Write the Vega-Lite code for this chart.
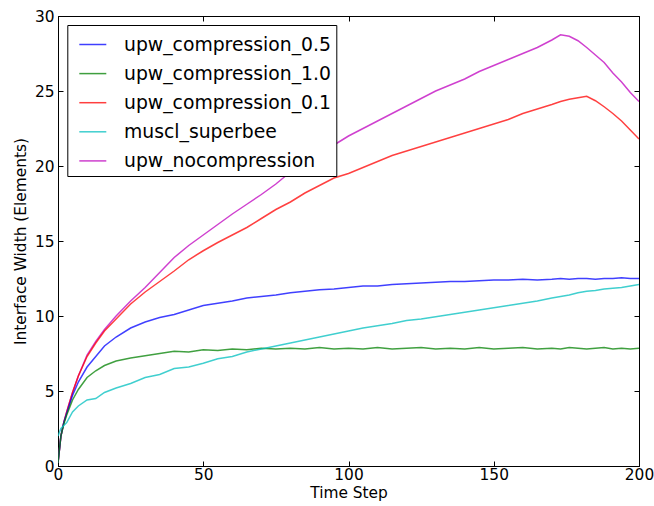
{
  "$schema": "https://vega.github.io/schema/vega-lite/v6.json",
  "width": 581,
  "height": 450,
  "autosize": "none",
  "padding": {"left": 58, "top": 16, "right": 15, "bottom": 40},
  "background": "white",
  "config": {
    "view": {"stroke": "black", "strokeWidth": 1},
    "axis": {
      "grid": false,
      "domainColor": "black",
      "tickColor": "black",
      "labelColor": "black",
      "titleColor": "black",
      "labelFont": "DejaVu Sans",
      "titleFont": "DejaVu Sans",
      "labelFontSize": 15.4,
      "titleFontSize": 15.4,
      "titleFontWeight": "normal",
      "tickSize": -5,
      "labelPadding": 6.5,
      "labelFlush": false
    },
    "legend": {
      "labelFont": "DejaVu Sans",
      "labelFontSize": 18.8,
      "labelColor": "black",
      "labelLimit": 400
    }
  },
  "data": {"values": [
    {"series":"upw_nocompression","t":0,"w":0.2},{"series":"upw_nocompression","t":1,"w":2.0},{"series":"upw_nocompression","t":2,"w":2.9},{"series":"upw_nocompression","t":3,"w":3.6},{"series":"upw_nocompression","t":5,"w":4.9},{"series":"upw_nocompression","t":7,"w":6.0},{"series":"upw_nocompression","t":10,"w":7.4},{"series":"upw_nocompression","t":13,"w":8.3},{"series":"upw_nocompression","t":16,"w":9.1},{"series":"upw_nocompression","t":20,"w":10.0},{"series":"upw_nocompression","t":25,"w":11.0},{"series":"upw_nocompression","t":30,"w":11.9},{"series":"upw_nocompression","t":35,"w":12.9},{"series":"upw_nocompression","t":40,"w":13.9},{"series":"upw_nocompression","t":45,"w":14.7},{"series":"upw_nocompression","t":50,"w":15.4},{"series":"upw_nocompression","t":55,"w":16.1},{"series":"upw_nocompression","t":60,"w":16.8},{"series":"upw_nocompression","t":65,"w":17.45},{"series":"upw_nocompression","t":70,"w":18.1},{"series":"upw_nocompression","t":75,"w":18.8},{"series":"upw_nocompression","t":80,"w":19.6},{"series":"upw_nocompression","t":85,"w":20.2},{"series":"upw_nocompression","t":90,"w":20.8},{"series":"upw_nocompression","t":95,"w":21.4},{"series":"upw_nocompression","t":100,"w":22.0},{"series":"upw_nocompression","t":105,"w":22.5},{"series":"upw_nocompression","t":110,"w":23.0},{"series":"upw_nocompression","t":115,"w":23.5},{"series":"upw_nocompression","t":120,"w":24.0},{"series":"upw_nocompression","t":125,"w":24.5},{"series":"upw_nocompression","t":130,"w":25.0},{"series":"upw_nocompression","t":135,"w":25.4},{"series":"upw_nocompression","t":140,"w":25.8},{"series":"upw_nocompression","t":145,"w":26.3},{"series":"upw_nocompression","t":150,"w":26.7},{"series":"upw_nocompression","t":155,"w":27.1},{"series":"upw_nocompression","t":160,"w":27.5},{"series":"upw_nocompression","t":165,"w":27.9},{"series":"upw_nocompression","t":170,"w":28.4},{"series":"upw_nocompression","t":173,"w":28.75},{"series":"upw_nocompression","t":176,"w":28.65},{"series":"upw_nocompression","t":179,"w":28.35},{"series":"upw_nocompression","t":182,"w":27.9},{"series":"upw_nocompression","t":185,"w":27.4},{"series":"upw_nocompression","t":188,"w":26.9},{"series":"upw_nocompression","t":191,"w":26.2},{"series":"upw_nocompression","t":194,"w":25.6},{"series":"upw_nocompression","t":197,"w":24.9},{"series":"upw_nocompression","t":200,"w":24.3},

    {"series":"upw_compression_0.1","t":0,"w":0.2},{"series":"upw_compression_0.1","t":1,"w":2.0},{"series":"upw_compression_0.1","t":2,"w":2.9},{"series":"upw_compression_0.1","t":3,"w":3.6},{"series":"upw_compression_0.1","t":5,"w":4.9},{"series":"upw_compression_0.1","t":7,"w":6.0},{"series":"upw_compression_0.1","t":10,"w":7.3},{"series":"upw_compression_0.1","t":13,"w":8.2},{"series":"upw_compression_0.1","t":16,"w":9.0},{"series":"upw_compression_0.1","t":20,"w":9.8},{"series":"upw_compression_0.1","t":25,"w":10.8},{"series":"upw_compression_0.1","t":30,"w":11.6},{"series":"upw_compression_0.1","t":35,"w":12.3},{"series":"upw_compression_0.1","t":40,"w":13.0},{"series":"upw_compression_0.1","t":45,"w":13.75},{"series":"upw_compression_0.1","t":50,"w":14.35},{"series":"upw_compression_0.1","t":55,"w":14.9},{"series":"upw_compression_0.1","t":60,"w":15.4},{"series":"upw_compression_0.1","t":65,"w":15.9},{"series":"upw_compression_0.1","t":70,"w":16.5},{"series":"upw_compression_0.1","t":75,"w":17.1},{"series":"upw_compression_0.1","t":80,"w":17.6},{"series":"upw_compression_0.1","t":85,"w":18.2},{"series":"upw_compression_0.1","t":90,"w":18.7},{"series":"upw_compression_0.1","t":95,"w":19.2},{"series":"upw_compression_0.1","t":100,"w":19.5},{"series":"upw_compression_0.1","t":105,"w":19.9},{"series":"upw_compression_0.1","t":110,"w":20.3},{"series":"upw_compression_0.1","t":115,"w":20.7},{"series":"upw_compression_0.1","t":120,"w":21.0},{"series":"upw_compression_0.1","t":125,"w":21.3},{"series":"upw_compression_0.1","t":130,"w":21.6},{"series":"upw_compression_0.1","t":135,"w":21.9},{"series":"upw_compression_0.1","t":140,"w":22.2},{"series":"upw_compression_0.1","t":145,"w":22.5},{"series":"upw_compression_0.1","t":150,"w":22.8},{"series":"upw_compression_0.1","t":155,"w":23.1},{"series":"upw_compression_0.1","t":160,"w":23.5},{"series":"upw_compression_0.1","t":165,"w":23.8},{"series":"upw_compression_0.1","t":170,"w":24.1},{"series":"upw_compression_0.1","t":173,"w":24.3},{"series":"upw_compression_0.1","t":176,"w":24.45},{"series":"upw_compression_0.1","t":179,"w":24.55},{"series":"upw_compression_0.1","t":182,"w":24.65},{"series":"upw_compression_0.1","t":185,"w":24.35},{"series":"upw_compression_0.1","t":188,"w":23.95},{"series":"upw_compression_0.1","t":191,"w":23.5},{"series":"upw_compression_0.1","t":194,"w":23.0},{"series":"upw_compression_0.1","t":197,"w":22.4},{"series":"upw_compression_0.1","t":200,"w":21.8},

    {"series":"upw_compression_0.5","t":0,"w":0.2},{"series":"upw_compression_0.5","t":1,"w":2.0},{"series":"upw_compression_0.5","t":2,"w":2.9},{"series":"upw_compression_0.5","t":3,"w":3.5},{"series":"upw_compression_0.5","t":5,"w":4.7},{"series":"upw_compression_0.5","t":7,"w":5.6},{"series":"upw_compression_0.5","t":10,"w":6.6},{"series":"upw_compression_0.5","t":13,"w":7.3},{"series":"upw_compression_0.5","t":16,"w":8.0},{"series":"upw_compression_0.5","t":20,"w":8.6},{"series":"upw_compression_0.5","t":25,"w":9.2},{"series":"upw_compression_0.5","t":30,"w":9.6},{"series":"upw_compression_0.5","t":35,"w":9.9},{"series":"upw_compression_0.5","t":40,"w":10.1},{"series":"upw_compression_0.5","t":45,"w":10.4},{"series":"upw_compression_0.5","t":50,"w":10.7},{"series":"upw_compression_0.5","t":55,"w":10.85},{"series":"upw_compression_0.5","t":60,"w":11.0},{"series":"upw_compression_0.5","t":65,"w":11.2},{"series":"upw_compression_0.5","t":70,"w":11.3},{"series":"upw_compression_0.5","t":75,"w":11.4},{"series":"upw_compression_0.5","t":80,"w":11.55},{"series":"upw_compression_0.5","t":85,"w":11.65},{"series":"upw_compression_0.5","t":90,"w":11.75},{"series":"upw_compression_0.5","t":95,"w":11.8},{"series":"upw_compression_0.5","t":100,"w":11.9},{"series":"upw_compression_0.5","t":105,"w":12.0},{"series":"upw_compression_0.5","t":110,"w":12.0},{"series":"upw_compression_0.5","t":115,"w":12.1},{"series":"upw_compression_0.5","t":120,"w":12.15},{"series":"upw_compression_0.5","t":125,"w":12.2},{"series":"upw_compression_0.5","t":130,"w":12.25},{"series":"upw_compression_0.5","t":135,"w":12.3},{"series":"upw_compression_0.5","t":140,"w":12.3},{"series":"upw_compression_0.5","t":145,"w":12.35},{"series":"upw_compression_0.5","t":150,"w":12.4},{"series":"upw_compression_0.5","t":155,"w":12.4},{"series":"upw_compression_0.5","t":160,"w":12.45},{"series":"upw_compression_0.5","t":165,"w":12.4},{"series":"upw_compression_0.5","t":170,"w":12.45},{"series":"upw_compression_0.5","t":173,"w":12.5},{"series":"upw_compression_0.5","t":176,"w":12.45},{"series":"upw_compression_0.5","t":179,"w":12.5},{"series":"upw_compression_0.5","t":182,"w":12.5},{"series":"upw_compression_0.5","t":185,"w":12.45},{"series":"upw_compression_0.5","t":188,"w":12.5},{"series":"upw_compression_0.5","t":191,"w":12.5},{"series":"upw_compression_0.5","t":194,"w":12.55},{"series":"upw_compression_0.5","t":197,"w":12.5},{"series":"upw_compression_0.5","t":200,"w":12.5},

    {"series":"upw_compression_1.0","t":0,"w":0.2},{"series":"upw_compression_1.0","t":1,"w":2.0},{"series":"upw_compression_1.0","t":2,"w":2.8},{"series":"upw_compression_1.0","t":3,"w":3.4},{"series":"upw_compression_1.0","t":5,"w":4.4},{"series":"upw_compression_1.0","t":7,"w":5.1},{"series":"upw_compression_1.0","t":10,"w":5.9},{"series":"upw_compression_1.0","t":13,"w":6.35},{"series":"upw_compression_1.0","t":16,"w":6.7},{"series":"upw_compression_1.0","t":20,"w":7.0},{"series":"upw_compression_1.0","t":25,"w":7.2},{"series":"upw_compression_1.0","t":30,"w":7.35},{"series":"upw_compression_1.0","t":35,"w":7.5},{"series":"upw_compression_1.0","t":40,"w":7.65},{"series":"upw_compression_1.0","t":45,"w":7.6},{"series":"upw_compression_1.0","t":50,"w":7.75},{"series":"upw_compression_1.0","t":55,"w":7.7},{"series":"upw_compression_1.0","t":60,"w":7.8},{"series":"upw_compression_1.0","t":65,"w":7.75},{"series":"upw_compression_1.0","t":70,"w":7.85},{"series":"upw_compression_1.0","t":75,"w":7.8},{"series":"upw_compression_1.0","t":80,"w":7.85},{"series":"upw_compression_1.0","t":85,"w":7.8},{"series":"upw_compression_1.0","t":90,"w":7.9},{"series":"upw_compression_1.0","t":95,"w":7.8},{"series":"upw_compression_1.0","t":100,"w":7.85},{"series":"upw_compression_1.0","t":105,"w":7.8},{"series":"upw_compression_1.0","t":110,"w":7.9},{"series":"upw_compression_1.0","t":115,"w":7.8},{"series":"upw_compression_1.0","t":120,"w":7.85},{"series":"upw_compression_1.0","t":125,"w":7.9},{"series":"upw_compression_1.0","t":130,"w":7.8},{"series":"upw_compression_1.0","t":135,"w":7.85},{"series":"upw_compression_1.0","t":140,"w":7.8},{"series":"upw_compression_1.0","t":145,"w":7.9},{"series":"upw_compression_1.0","t":150,"w":7.8},{"series":"upw_compression_1.0","t":155,"w":7.85},{"series":"upw_compression_1.0","t":160,"w":7.9},{"series":"upw_compression_1.0","t":165,"w":7.8},{"series":"upw_compression_1.0","t":170,"w":7.85},{"series":"upw_compression_1.0","t":173,"w":7.8},{"series":"upw_compression_1.0","t":176,"w":7.9},{"series":"upw_compression_1.0","t":179,"w":7.85},{"series":"upw_compression_1.0","t":182,"w":7.8},{"series":"upw_compression_1.0","t":185,"w":7.85},{"series":"upw_compression_1.0","t":188,"w":7.9},{"series":"upw_compression_1.0","t":191,"w":7.8},{"series":"upw_compression_1.0","t":194,"w":7.85},{"series":"upw_compression_1.0","t":197,"w":7.8},{"series":"upw_compression_1.0","t":200,"w":7.85},

    {"series":"muscl_superbee","t":0,"w":2.0},{"series":"muscl_superbee","t":1,"w":2.5},{"series":"muscl_superbee","t":2,"w":2.7},{"series":"muscl_superbee","t":3,"w":2.9},{"series":"muscl_superbee","t":5,"w":3.6},{"series":"muscl_superbee","t":7,"w":4.0},{"series":"muscl_superbee","t":10,"w":4.4},{"series":"muscl_superbee","t":13,"w":4.5},{"series":"muscl_superbee","t":16,"w":4.9},{"series":"muscl_superbee","t":20,"w":5.2},{"series":"muscl_superbee","t":25,"w":5.5},{"series":"muscl_superbee","t":30,"w":5.9},{"series":"muscl_superbee","t":35,"w":6.1},{"series":"muscl_superbee","t":40,"w":6.5},{"series":"muscl_superbee","t":45,"w":6.6},{"series":"muscl_superbee","t":50,"w":6.85},{"series":"muscl_superbee","t":55,"w":7.15},{"series":"muscl_superbee","t":60,"w":7.3},{"series":"muscl_superbee","t":65,"w":7.6},{"series":"muscl_superbee","t":70,"w":7.8},{"series":"muscl_superbee","t":75,"w":8.0},{"series":"muscl_superbee","t":80,"w":8.2},{"series":"muscl_superbee","t":85,"w":8.4},{"series":"muscl_superbee","t":90,"w":8.6},{"series":"muscl_superbee","t":95,"w":8.8},{"series":"muscl_superbee","t":100,"w":9.0},{"series":"muscl_superbee","t":105,"w":9.2},{"series":"muscl_superbee","t":110,"w":9.35},{"series":"muscl_superbee","t":115,"w":9.5},{"series":"muscl_superbee","t":120,"w":9.7},{"series":"muscl_superbee","t":125,"w":9.8},{"series":"muscl_superbee","t":130,"w":9.95},{"series":"muscl_superbee","t":135,"w":10.1},{"series":"muscl_superbee","t":140,"w":10.25},{"series":"muscl_superbee","t":145,"w":10.4},{"series":"muscl_superbee","t":150,"w":10.55},{"series":"muscl_superbee","t":155,"w":10.7},{"series":"muscl_superbee","t":160,"w":10.85},{"series":"muscl_superbee","t":165,"w":11.0},{"series":"muscl_superbee","t":170,"w":11.2},{"series":"muscl_superbee","t":173,"w":11.3},{"series":"muscl_superbee","t":176,"w":11.4},{"series":"muscl_superbee","t":179,"w":11.55},{"series":"muscl_superbee","t":182,"w":11.65},{"series":"muscl_superbee","t":185,"w":11.7},{"series":"muscl_superbee","t":188,"w":11.8},{"series":"muscl_superbee","t":191,"w":11.85},{"series":"muscl_superbee","t":194,"w":11.9},{"series":"muscl_superbee","t":197,"w":12.0},{"series":"muscl_superbee","t":200,"w":12.1}
  ]},
  "layer": [
    {
      "mark": {"type": "line", "strokeWidth": 1.5, "opacity": 0.75, "clip": true},
      "encoding": {
        "x": {"field": "t", "type": "quantitative", "scale": {"domain": [0, 200], "nice": false, "zero": false},
              "axis": {"values": [0, 50, 100, 150, 200], "title": "Time Step", "titlePadding": 3}},
        "y": {"field": "w", "type": "quantitative", "scale": {"domain": [0, 30], "nice": false},
              "axis": {"values": [0, 5, 10, 15, 20, 25, 30], "title": "Interface Width (Elements)", "titlePadding": 6, "labelPadding": 9}},
        "color": {
          "field": "series", "type": "nominal",
          "scale": {
            "domain": ["upw_compression_0.5", "upw_compression_1.0", "upw_compression_0.1", "muscl_superbee", "upw_nocompression"],
            "range": ["#0000ff", "#008000", "#ff0000", "#00bfbf", "#bf00bf"]
          },
          "legend": {
            "title": null,
            "orient": "none",
            "legendX": 9.3,
            "legendY": 9,
            "symbolType": "stroke",
            "symbolSize": 729,
            "symbolStrokeWidth": 1.5,
            "symbolOpacity": 0.75,
            "symbolOffset": 6,
            "labelOffset": 16.7,
            "padding": 5,
            "rowPadding": 4.1,
            "strokeColor": "black",
            "fillColor": "white",
            "cornerRadius": 0
          }
        }
      }
    },
    {
      "mark": {"type": "line", "opacity": 0},
      "encoding": {
        "x": {"field": "t", "type": "quantitative", "scale": {"domain": [0, 200], "nice": false, "zero": false},
              "axis": {"orient": "top", "values": [0, 50, 100, 150, 200], "labels": false, "title": null, "domain": false}},
        "y": {"field": "w", "type": "quantitative", "scale": {"domain": [0, 30], "nice": false},
              "axis": {"orient": "right", "values": [0, 5, 10, 15, 20, 25, 30], "labels": false, "title": null, "domain": false}},
        "detail": {"field": "series"}
      }
    }
  ],
  "resolve": {"axis": {"x": "independent", "y": "independent"}}
}
